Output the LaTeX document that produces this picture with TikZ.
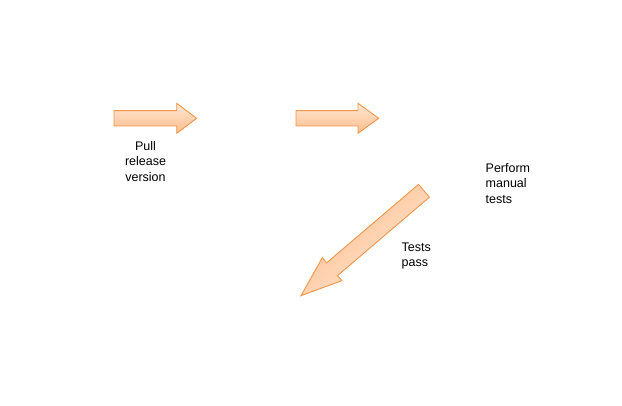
\documentclass[tikz,border=0pt]{standalone}
\usepackage{fontspec}
\setmainfont{Liberation Sans}
\definecolor{arrstroke}{HTML}{F0954A}
\definecolor{arrlight}{HTML}{FFE8D6}
\definecolor{arrdark}{HTML}{FFBC8A}
\tikzset{
  blockarrow/.style={draw=arrstroke, line width=0.9pt, line join=miter, top color=arrlight, bottom color=arrdark},
  lbl/.style={inner sep=0pt, font=\fontsize{12.5}{15.5}\selectfont}
}
\begin{document}
\begin{tikzpicture}[x=1pt,y=-1pt]
\useasboundingbox (0,0) rectangle (622,406);
% arrow 1
\path[blockarrow] (114,110.7) -- (176.7,110.7) -- (176.7,103.3) -- (196.7,118.3) -- (176.7,133.3) -- (176.7,126) -- (114,126) -- cycle;
% arrow 2
\path[blockarrow] (296,110.7) -- (358,110.7) -- (358,103.3) -- (378.7,118.3) -- (358,133.3) -- (358,126) -- (296,126) -- cycle;
% diagonal arrow
\path[blockarrow, shading angle=220.5] (418.55,184.4) -- (429.45,197.2) -- (337.55,275.6) -- (341.9,280.7) -- (301,295.7) -- (322.3,257.7) -- (326.65,262.8) -- cycle;
% labels
\node[lbl, align=center] (pull) at (145.5,161.5) {Pull\\release\\version};
\node[lbl, align=left, anchor=west] (perform) at (485.5,183.5) {Perform\\manual\\tests};
\node[lbl, align=left, anchor=west] (pass) at (401.5,256) {Tests\\pass};
\end{tikzpicture}
\end{document}
